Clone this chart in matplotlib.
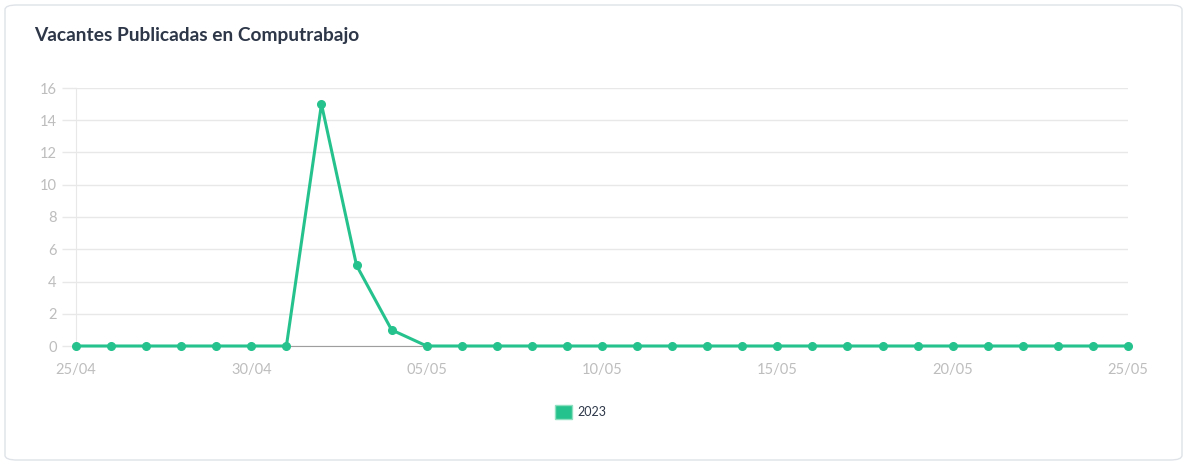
import matplotlib.pyplot as plt
from matplotlib.patches import FancyBboxPatch, Patch

# -------------------------------
# Data
# -------------------------------
dates = ["25/04", "26/04", "27/04", "28/04", "29/04", "30/04",
         "01/05", "02/05", "03/05", "04/05", "05/05", "06/05", "07/05",
         "08/05", "09/05", "10/05", "11/05", "12/05", "13/05", "14/05",
         "15/05", "16/05", "17/05", "18/05", "19/05", "20/05", "21/05",
         "22/05", "23/05", "24/05", "25/05"]
vacantes = [0, 0, 0, 0, 0, 0, 0, 15, 5, 1, 0, 0, 0, 0, 0, 0,
            0, 0, 0, 0, 0, 0, 0, 0, 0, 0, 0, 0, 0, 0, 0]
shown_ticks = ["25/04", "30/04", "05/05", "10/05", "15/05", "20/05", "25/05"]
yticks = [0, 2, 4, 6, 8, 10, 12, 14, 16]
series_name = "2023"
title = "Vacantes Publicadas en Computrabajo"

green = "#26c28d"
tick_color = "#bdbdbd"
grid_color = "#e8e8e8"
dark = "#2d3748"

plt.rcParams['font.family'] = ['Lato', 'DejaVu Sans']

W, H = 1187, 465
fig = plt.figure(figsize=(W / 100, H / 100), dpi=100)

# card background (kept behind the axes)
card = FancyBboxPatch((5 / W, 5 / H), 1177 / W, 455 / H,
                      boxstyle="round,pad=0,rounding_size=0.01",
                      transform=fig.transFigure, facecolor="white",
                      edgecolor="#dfe3e8", linewidth=1.0, zorder=-10)
fig.patches.append(card)

fig.text(34 / W, 1 - 35 / H, title, fontsize=13.8, fontweight="bold",
         color=dark, va="center", ha="left")

ax = fig.add_axes([76 / W, (H - 346) / H, (1128 - 76) / W, (346 - 88) / H])
ax.set_facecolor("none")

x = list(range(len(dates)))
ax.plot(x, vacantes, color=green, linewidth=2.2, marker="o", markersize=5.5,
        clip_on=False, zorder=3)

ax.set_xlim(0, len(dates) - 1)
ax.set_ylim(0, 16)

ax.set_yticks(yticks)
ax.set_yticklabels([str(v) for v in yticks])
tick_pos = [dates.index(d) for d in shown_ticks]
ax.set_xticks(tick_pos)
ax.set_xticklabels(shown_ticks)

ax.grid(axis="y", color=grid_color, linewidth=1.0)
ax.set_axisbelow(True)
for side in ["top", "right"]:
    ax.spines[side].set_visible(False)
ax.spines["left"].set_color(grid_color)
ax.spines["bottom"].set_color("#9e9e9e")
ax.spines["bottom"].set_linewidth(0.8)

ax.tick_params(axis="y", length=10, width=1.0, color=grid_color,
               labelcolor=tick_color, labelsize=10.5, pad=4)
ax.tick_params(axis="x", length=0, labelcolor=tick_color, labelsize=10.5, pad=12)

leg = fig.legend(handles=[Patch(facecolor=green, edgecolor="#8ee0c0", label=series_name)],
                 loc="center", bbox_to_anchor=(581 / W, 1 - 412 / H),
                 frameon=False, fontsize=9, handlelength=1.35, handleheight=1.35,
                 handletextpad=0.45)
for t in leg.get_texts():
    t.set_color(dark)

fig.savefig("out.png", dpi=100)
